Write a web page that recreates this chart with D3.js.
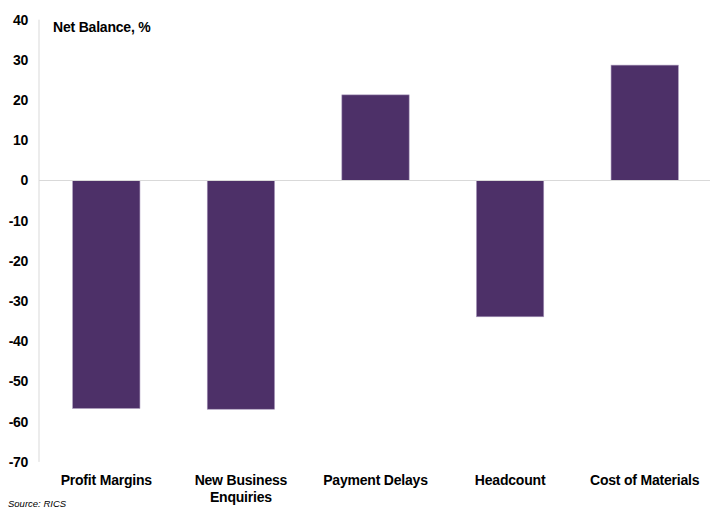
<!DOCTYPE html>
<html>
<head>
<meta charset="utf-8">
<script src="https://cdn.jsdelivr.net/npm/d3@7/dist/d3.min.js"></script>
<style>
  html, body { margin: 0; padding: 0; background: #fff; }
  svg { display: block; font-family: "Liberation Sans", Arial, sans-serif; }
</style>
</head>
<body>
<svg id="chart" width="710" height="509"></svg>
<script>
// Survey net balances by indicator
const categories = ["Profit Margins", "New Business Enquiries", "Payment Delays", "Headcount", "Cost of Materials"];
const categoryLines = [["Profit Margins"], ["New Business", "Enquiries"], ["Payment Delays"], ["Headcount"], ["Cost of Materials"]];
const netBalance = [-56.7, -56.9, 21.3, -33.9, 28.7];
const yTicks = [40, 30, 20, 10, 0, -10, -20, -30, -40, -50, -60, -70];

const svg = d3.select("#chart");
const plotLeft = 39, plotRight = 712, plotTop = 19.7, plotBottom = 461.9;

const x = d3.scaleBand()
  .domain(categories)
  .range([plotLeft, plotRight])
  .paddingInner(0.5)
  .paddingOuter(0.25);

const y = d3.scaleLinear()
  .domain([-70, 40])
  .range([plotBottom, plotTop]);

// Vertical axis line
svg.append("line")
  .attr("x1", plotLeft).attr("x2", plotLeft)
  .attr("y1", y(40)).attr("y2", y(-70))
  .attr("stroke", "#d9d9d9").attr("stroke-width", 1);

// Y tick labels (plain hyphen for negatives)
const yAxis = d3.axisLeft(y).tickValues(yTicks).tickSize(0).tickPadding(11)
  .tickFormat(d => String(d));
const gy = svg.append("g").attr("transform", `translate(${plotLeft},0)`).call(yAxis);
gy.select(".domain").remove();
gy.selectAll("text")
  .attr("font-family", "Liberation Sans, Arial, sans-serif")
  .attr("font-size", 14)
  .attr("font-weight", "bold")
  .attr("letter-spacing", -0.3)
  .attr("fill", "#000");

// Bars
svg.append("g").selectAll("rect")
  .data(categories)
  .join("rect")
  .attr("x", d => x(d))
  .attr("width", x.bandwidth())
  .attr("y", (d, i) => y(Math.max(0, netBalance[i])))
  .attr("height", (d, i) => Math.abs(y(netBalance[i]) - y(0)))
  .attr("fill", "#4d3068")
  .attr("stroke", "#a898ba")
  .attr("stroke-width", 0.6);

// Zero line
svg.append("line")
  .attr("x1", plotLeft).attr("x2", 710)
  .attr("y1", y(0)).attr("y2", y(0))
  .attr("stroke", "#d9d9d9").attr("stroke-width", 1);

// Category labels
const lab = svg.append("g").selectAll("text")
  .data(categories)
  .join("text")
  .attr("x", d => x(d) + x.bandwidth() / 2)
  .attr("y", 485)
  .attr("text-anchor", "middle")
  .attr("font-size", 14)
  .attr("font-weight", "bold")
  .attr("letter-spacing", -0.2)
  .attr("fill", "#000");
lab.each(function(d, i) {
  d3.select(this).selectAll("tspan")
    .data(categoryLines[i])
    .join("tspan")
    .attr("x", x(d) + x.bandwidth() / 2)
    .attr("dy", (t, j) => j === 0 ? 0 : 17)
    .text(t => t);
});

// Axis title
svg.append("text")
  .attr("x", 53).attr("y", 32)
  .attr("font-size", 14)
  .attr("font-weight", "bold")
  .attr("letter-spacing", -0.2)
  .attr("fill", "#000")
  .text("Net Balance, %");

// Source note
svg.append("text")
  .attr("x", 8).attr("y", 507)
  .attr("font-size", 9.5)
  .attr("font-style", "italic")
  .attr("fill", "#000")
  .text("Source: RICS");
</script>
</body>
</html>
